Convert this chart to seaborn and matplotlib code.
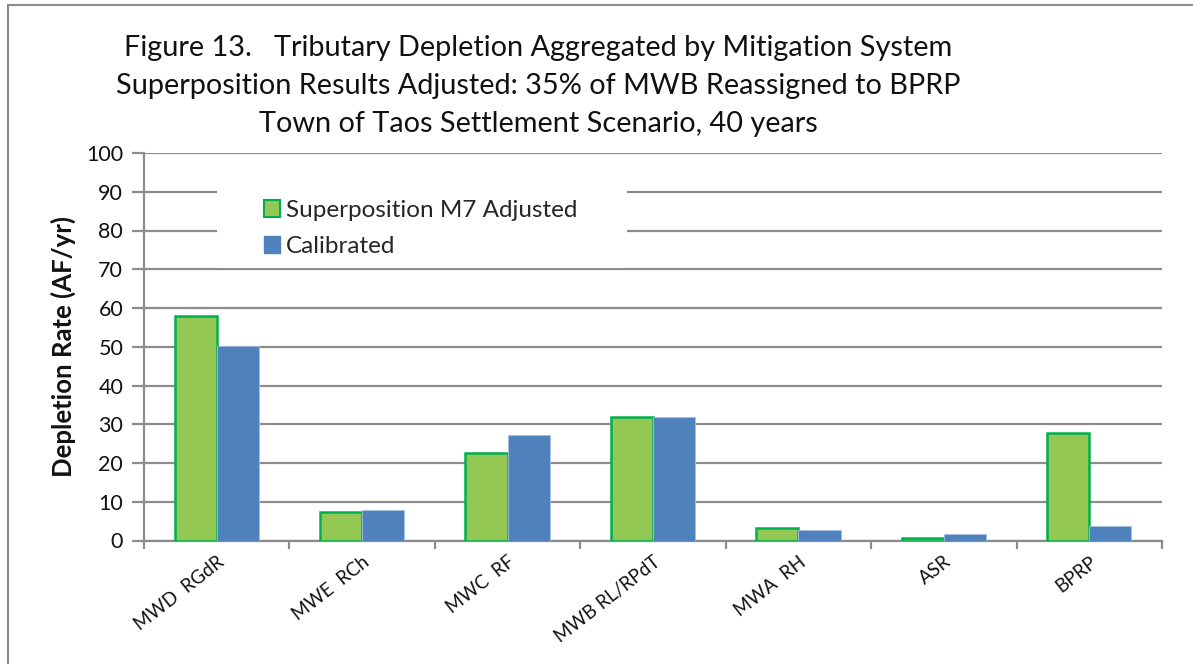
import pandas as pd
import numpy as np
import matplotlib
matplotlib.use("Agg")
import matplotlib.pyplot as plt
import matplotlib.patches as mpatches
import seaborn as sns

# Chart values
systems = ["MWD  RGdR", "MWE  RCh", "MWC  RF", "MWB RL/RPdT", "MWA  RH", "ASR", "BPRP"]
superposition = [58.0, 7.4, 22.6, 32.0, 3.1, 0.55, 27.7]
calibrated = [50.1, 8.0, 27.3, 32.0, 2.6, 1.75, 3.8]
series_names = ["Superposition M7 Adjusted", "Calibrated"]
title_lines = [
    "Figure 13.   Tributary Depletion Aggregated by Mitigation System",
    "Superposition Results Adjusted: 35% of MWB Reassigned to BPRP",
    "Town of Taos Settlement Scenario, 40 years",
]

GREEN = "#92C853"
GREEN_EDGE = "#00B050"
BLUE = "#4F81BD"
GRID = "#8C8C8C"

df = pd.DataFrame({
    "system": systems * 2,
    "value": superposition + calibrated,
    "series": [series_names[0]] * len(systems) + [series_names[1]] * len(systems),
})

sns.set_style("white")
plt.rcParams["font.family"] = ["Lato", "DejaVu Sans"]

fig = plt.figure(figsize=(11.93, 6.64), dpi=100)
ax = fig.add_axes([144 / 1193, 1 - 540.5 / 664, 1018 / 1193, 387.5 / 664])

sns.barplot(data=df, x="system", y="value", hue="series", order=systems,
            hue_order=series_names, palette=[GREEN, BLUE], width=0.58,
            saturation=1, ax=ax, legend=False, zorder=3)

for bar in ax.containers[0]:
    bar.set_edgecolor(GREEN_EDGE)
    bar.set_linewidth(1.8)
for bar in ax.containers[1]:
    bar.set_edgecolor("#A9C1E0")
    bar.set_linewidth(0.6)

ax.set_ylim(0, 100)
ax.set_xlim(-0.5, len(systems) - 0.5)
ax.set_yticks(np.arange(0, 101, 10))
ax.yaxis.grid(True, color=GRID, linewidth=1.6, zorder=0)
ax.set_axisbelow(True)

for side in ["top", "right"]:
    ax.spines[side].set_visible(False)
for side in ["left", "bottom"]:
    ax.spines[side].set_color(GRID)
    ax.spines[side].set_linewidth(1.6)

ax.tick_params(axis="y", direction="out", length=9, width=1.6, color=GRID,
               labelsize=15.5, labelcolor="#111111", pad=6, left=True)
ax.set_xticks(np.arange(-0.5, len(systems)), minor=True)
ax.tick_params(axis="x", which="minor", direction="out", length=6, width=1.6,
               color=GRID, bottom=True)
ax.tick_params(axis="x", which="major", length=0, pad=9)
ax.set_xticklabels(systems, rotation=38, ha="right", rotation_mode="anchor",
                   fontsize=13.5, color="#111111")

ax.set_xlabel("")
ax.set_ylabel("Depletion Rate (AF/yr)", fontsize=18.5, fontweight="bold",
              color="#111111", labelpad=7)

# white panel behind the legend, covering the grid lines
ax.add_patch(mpatches.Rectangle((73 / 1018, (540.5 - 268) / 387.5),
                                410 / 1018, 78 / 387.5, transform=ax.transAxes,
                                facecolor="white", edgecolor="none", zorder=2))
handles = [mpatches.Patch(facecolor=GREEN, edgecolor=GREEN_EDGE, linewidth=1.5),
           mpatches.Patch(facecolor=BLUE, edgecolor=BLUE)]
ax.legend(handles, series_names, loc="upper left",
          bbox_to_anchor=(120 / 1018, (540.5 - 200) / 387.5), frameon=False,
          fontsize=17.5, handlelength=0.65, handleheight=0.65, handletextpad=0.25,
          labelspacing=0.62, borderaxespad=0, borderpad=0)

for i, line in enumerate(title_lines):
    fig.text(538 / 1193, 1 - (48 + 38 * i) / 664, line, ha="center", va="center",
             fontsize=20.8, color="#111111")

# outer chart frame
fig.patches.append(mpatches.Rectangle((8 / 1193, -0.1), 1.2, 0.1 + (664 - 5) / 664,
                                      transform=fig.transFigure, fill=False,
                                      edgecolor="#8C8C8C", linewidth=1.5))

fig.savefig("out.png", dpi=100, facecolor="white")
